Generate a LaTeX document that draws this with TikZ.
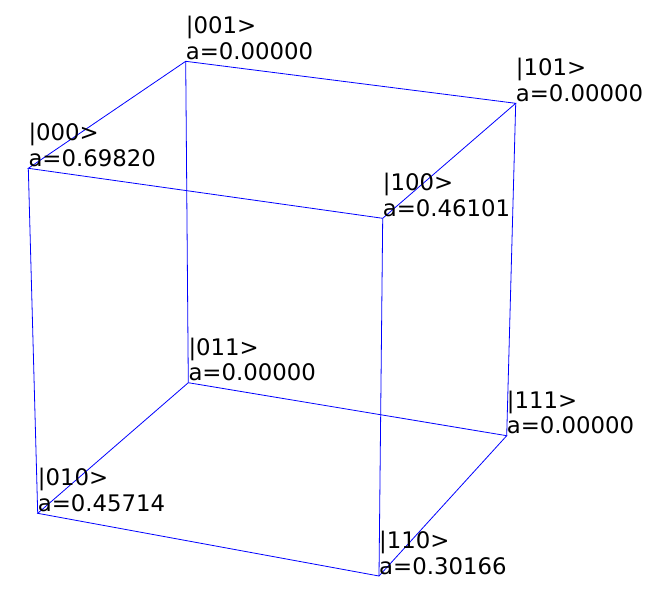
\documentclass[tikz,border=0pt]{standalone}
\usepackage{fontspec}
\setmainfont{DejaVu Sans}
\usepackage{tikz}

\begin{document}
\begin{tikzpicture}[x=1pt,y=-1pt,
  edge/.style={blue,line width=0.8pt},
  lbl/.style={anchor=south west,inner sep=0pt,align=left,yshift=1.3pt,
    font=\fontsize{22.8}{25.8}\selectfont}]
  \useasboundingbox (0,0) rectangle (660,597);
  \coordinate (v000) at (28.3,168.3);
  \coordinate (v001) at (185.7,61.3);
  \coordinate (v101) at (515.7,103.3);
  \coordinate (v100) at (382.7,218.3);
  \coordinate (v011) at (188.3,382.7);
  \coordinate (v010) at (37.7,513.3);
  \coordinate (v111) at (506.7,435.7);
  \coordinate (v110) at (379,576);
  \draw[edge] (v000) -- (v001) -- (v101) -- (v100) -- cycle;
  \draw[edge] (v010) -- (v011) -- (v111) -- (v110) -- cycle;
  \draw[edge] (v000) -- (v010);
  \draw[edge] (v001) -- (v011);
  \draw[edge] (v101) -- (v111);
  \draw[edge] (v100) -- (v110);
  \node[lbl] (l000) at (v000) {|000>\\a=0.69820};
  \node[lbl] (l001) at (v001) {|001>\\a=0.00000};
  \node[lbl] (l101) at (v101) {|101>\\a=0.00000};
  \node[lbl] (l100) at (v100) {|100>\\a=0.46101};
  \node[lbl] (l011) at (v011) {|011>\\a=0.00000};
  \node[lbl] (l010) at (v010) {|010>\\a=0.45714};
  \node[lbl] (l111) at (v111) {|111>\\a=0.00000};
  \node[lbl] (l110) at (v110) {|110>\\a=0.30166};
\end{tikzpicture}
\end{document}
